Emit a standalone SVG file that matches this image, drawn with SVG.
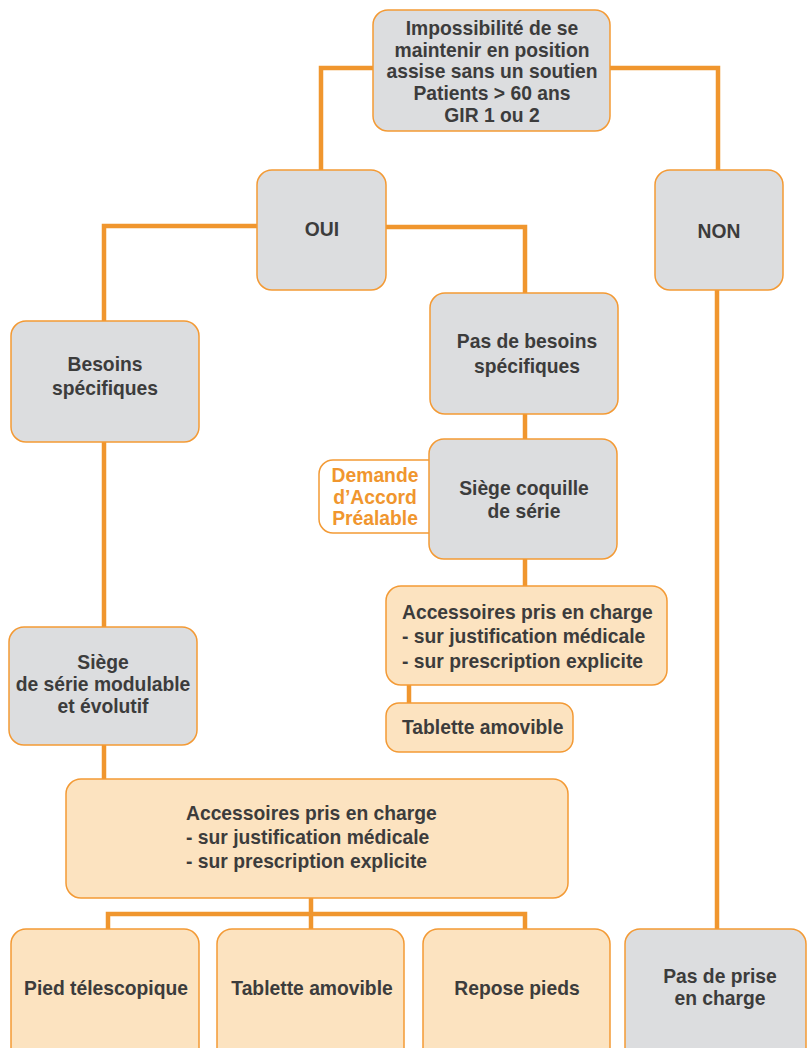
<svg xmlns="http://www.w3.org/2000/svg" width="808" height="1048" viewBox="0 0 808 1048">
<style>
.c{fill:none;stroke:#F0962E;stroke-width:4.5;stroke-linejoin:miter}
.g{fill:#DCDDDF;stroke:#F39A35;stroke-width:1.5}
.o{fill:#FCE3C0;stroke:#F39A35;stroke-width:1.5}
.w{fill:#FFFFFF;stroke:#F39A35;stroke-width:1.5}
text{font-family:"Liberation Sans",Arial,sans-serif;font-weight:bold;font-size:19.3px;fill:#3C3C3C}
.m{text-anchor:middle}
.or{fill:#F0962E}
</style>
<rect width="808" height="1048" fill="#FFFFFF"/>
<g id="connectors">
<polyline class="c" points="373,68 321,68 321,170"/>
<polyline class="c" points="610,68 718,68 718,170"/>
<polyline class="c" points="257,226 104,226 104,321"/>
<polyline class="c" points="386,227 525,227 525,293"/>
<line class="c" x1="525" y1="414" x2="525" y2="439"/>
<line class="c" x1="525" y1="559" x2="525" y2="586"/>
<line class="c" x1="409" y1="685" x2="409" y2="703"/>
<line class="c" x1="104" y1="442" x2="104" y2="627"/>
<line class="c" x1="104" y1="745" x2="104" y2="780"/>
<line class="c" x1="311" y1="898" x2="311" y2="929"/>
<polyline class="c" points="108,929 108,914 525,914 525,929"/>
<line class="c" x1="717" y1="290" x2="717" y2="929"/>
</g>
<g id="n-top">
<rect class="g" x="373" y="10" width="237" height="121" rx="15"/>
<text class="m" x="492" y="35">Impossibilité de se</text>
<text class="m" x="492" y="57">maintenir en position</text>
<text class="m" x="492" y="78">assise sans un soutien</text>
<text class="m" x="492" y="100">Patients &gt; 60 ans</text>
<text class="m" x="492" y="122">GIR 1 ou 2</text>
</g>
<g id="n-oui">
<rect class="g" x="257" y="170" width="129" height="120" rx="15"/>
<text class="m" x="322" y="236">OUI</text>
</g>
<g id="n-non">
<rect class="g" x="655" y="170" width="128" height="120" rx="15"/>
<text class="m" x="719" y="238">NON</text>
</g>
<g id="n-besoins">
<rect class="g" x="11" y="321" width="188" height="121" rx="15"/>
<text class="m" x="105" y="371">Besoins</text>
<text class="m" x="105" y="395">spécifiques</text>
</g>
<g id="n-pasbesoins">
<rect class="g" x="430" y="293" width="188" height="121" rx="15"/>
<text class="m" x="527" y="348">Pas de besoins</text>
<text class="m" x="527" y="373">spécifiques</text>
</g>
<g id="n-demande">
<rect class="w" x="319" y="460" width="124" height="73" rx="14"/>
<text class="m or" x="375" y="482">Demande</text>
<text class="m or" x="375" y="504">d’Accord</text>
<text class="m or" x="375" y="525">Préalable</text>
</g>
<g id="n-coquille">
<rect class="g" x="429" y="439" width="188" height="120" rx="15"/>
<text class="m" x="524" y="495">Siège coquille</text>
<text class="m" x="524" y="518">de série</text>
</g>
<g id="n-acc-right">
<rect class="o" x="386" y="586" width="281" height="99" rx="15"/>
<text x="402" y="619">Accessoires pris en charge</text>
<text x="402" y="643">- sur justification médicale</text>
<text x="402" y="668">- sur prescription explicite</text>
</g>
<g id="n-tablette-right">
<rect class="o" x="386" y="703" width="187" height="49" rx="13"/>
<text x="402" y="734">Tablette amovible</text>
</g>
<g id="n-modulable">
<rect class="g" x="9" y="627" width="188" height="118" rx="15"/>
<text class="m" x="103" y="669">Siège</text>
<text class="m" x="103" y="691">de série modulable</text>
<text class="m" x="103" y="713">et évolutif</text>
</g>
<g id="n-acc-bottom">
<rect class="o" x="66" y="779" width="502" height="119" rx="15"/>
<text x="186" y="820">Accessoires pris en charge</text>
<text x="186" y="844">- sur justification médicale</text>
<text x="186" y="868">- sur prescription explicite</text>
</g>
<g id="n-pied">
<rect class="o" x="11" y="929" width="188" height="140" rx="15"/>
<text class="m" x="106" y="995">Pied télescopique</text>
</g>
<g id="n-tablette-bottom">
<rect class="o" x="217" y="929" width="187" height="140" rx="15"/>
<text class="m" x="312" y="995">Tablette amovible</text>
</g>
<g id="n-repose">
<rect class="o" x="423" y="929" width="187" height="140" rx="15"/>
<text class="m" x="517" y="995">Repose pieds</text>
</g>
<g id="n-pasprise">
<rect class="g" x="625" y="929" width="181" height="140" rx="15"/>
<text class="m" x="720" y="983">Pas de prise</text>
<text class="m" x="720" y="1005">en charge</text>
</g>
</svg>
